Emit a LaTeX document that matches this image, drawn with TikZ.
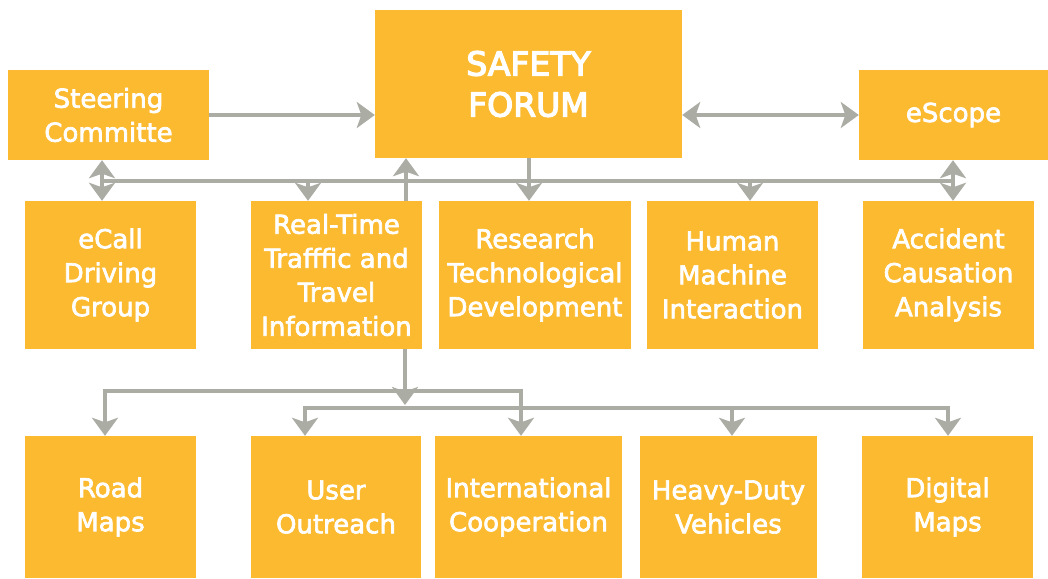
\documentclass[tikz,border=0pt]{standalone}
\usepackage{fontspec}
\setmainfont{DejaVu Sans}
\newfontfamily\boxfont{DejaVu Sans}[FakeBold=2.5]
\newfontfamily\forumfont{DejaVu Sans}[FakeBold=4]
\usetikzlibrary{arrows.meta}
\definecolor{boxfill}{HTML}{FBBA30}
\definecolor{linkgray}{HTML}{ABADA5}

\begin{document}
\begin{tikzpicture}[x=1pt,y=-1pt]
  \tikzset {
    box/.style={
      rectangle,
      fill=boxfill,
      text=white,
      inner sep=0pt,
      minimum height=148pt,
      align=center,
      font=\boxfont\fontsize{26}{34}\selectfont
    },
    link/.style={
      draw=linkgray,
      line width=3.5pt
    },
    headtip/.tip={Stealth[length=18pt,width=26pt,inset=4.5pt]}
  }
  \useasboundingbox (0,0) rectangle (1048,578);

  \node[box, minimum width=201pt, minimum height=90pt](steer) at (108.5,115) {Steering\\Committe};
  \node[box, minimum width=307pt, font=\forumfont\fontsize{33}{41}\selectfont](forum) at (528.5,84) {SAFETY\\FORUM};
  \node[box, minimum width=189pt, minimum height=90pt](escope) at (953.5,115) {eScope};

  \node[box, minimum width=171pt](ecall) at (110.5,275) {eCall\\Driving\\Group};
  \node[box, minimum width=171pt](rtti) at (336.5,275) {Real-Time\\Trafffic and\\Travel\\Information};
  \node[box, minimum width=192pt](research) at (535,275) {Research\\Technological\\Development};
  \node[box, minimum width=171pt](hmi) at (732.5,275) {Human\\Machine\\Interaction};
  \node[box, minimum width=171pt](accident) at (948.5,275) {Accident\\Causation\\Analysis};

  \node[box, minimum width=171pt, minimum height=142pt](road) at (110.5,507) {Road\\Maps};
  \node[box, minimum width=170pt, minimum height=142pt](user) at (336,507) {User\\Outreach};
  \node[box, minimum width=187pt, minimum height=142pt](intl) at (528.5,507) {International\\Cooperation};
  \node[box, minimum width=177pt, minimum height=142pt](heavy) at (728.5,507) {Heavy-Duty\\Vehicles};
  \node[box, minimum width=171pt, minimum height=142pt](digital) at (947.5,507) {Digital\\Maps};

  \coordinate (busl) at (102,181);
  \coordinate (busr) at (953,181);
  \coordinate (tap1) at (308,181);
  \coordinate (tap2) at (406,181);
  \coordinate (tap3) at (529,181);
  \coordinate (tap4) at (750,181);
  \coordinate (fork) at (405,405);
  \coordinate (rowa) at (105,391);
  \coordinate (rowb) at (521,391);
  \coordinate (rowc) at (305,408);
  \coordinate (rowd) at (948,408);
  \coordinate (rowe) at (732,408);

  \draw[link,-headtip] (steer.east) -- (steer.east -| forum.west);
  \draw[link,headtip-headtip] (forum.east |- escope.west) -- (escope.west);

  \draw[link] (busl) -- (busr);
  \draw[link,headtip-headtip] (busl |- steer.south) -- (busl |- ecall.north);
  \draw[link,headtip-headtip] (busr |- escope.south) -- (busr |- accident.north);
  \draw[link,-headtip] (tap1) -- (tap1 |- rtti.north);
  \draw[link,-headtip] (tap2 |- rtti.north) -- (tap2 |- forum.south);
  \draw[link,-headtip] (tap3 |- forum.south) -- (tap3 |- research.north);
  \draw[link,-headtip] (tap4) -- (tap4 |- hmi.north);

  \draw[link,-headtip] (fork |- rtti.south) -- (fork);
  \draw[link,headtip-headtip] (rowa |- road.north) -- (rowa) -- (rowb) -- (rowb |- intl.north);
  \draw[link,headtip-headtip] (rowc |- user.north) -- (rowc) -- (rowd) -- (rowd |- digital.north);
  \draw[link,-headtip] (rowe) -- (rowe |- heavy.north);

\end{tikzpicture}
\end{document}
